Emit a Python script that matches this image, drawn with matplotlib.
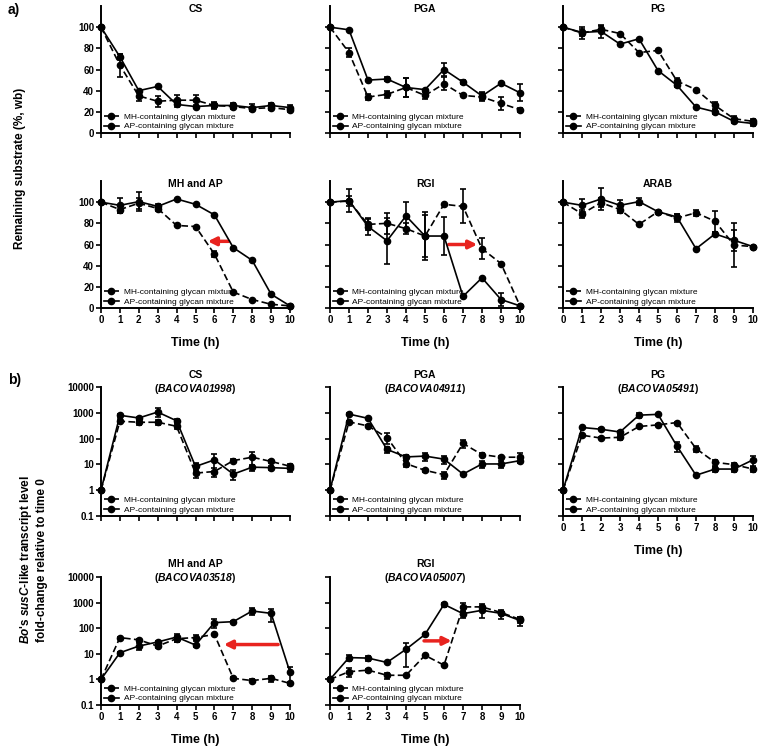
import numpy as np
import matplotlib
matplotlib.use("Agg")
import matplotlib.pyplot as plt
from matplotlib import font_manager
from matplotlib.lines import Line2D

# quitar la variante Narrow para que "Liberation Sans" sea la normal
font_manager.fontManager.ttflist = [f for f in font_manager.fontManager.ttflist
                                    if 'Narrow' not in f.fname]

plt.rcParams['font.family'] = ['Liberation Sans', 'DejaVu Sans']
plt.rcParams['mathtext.fontset'] = 'custom'
plt.rcParams['mathtext.it'] = 'Liberation Sans:italic:bold'
plt.rcParams['mathtext.rm'] = 'Liberation Sans:bold'
# \mathbf se usa como negrita cursiva (incluye digitos)
plt.rcParams['mathtext.bf'] = 'Liberation Sans:italic:bold'

# datos
hours = list(range(11))
xtick_labels = [str(h) for h in hours]
legend_labels = ["MH-containing glycan mixture", "AP-containing glycan mixture"]

# a) sustrato remanente (%)
cs_mh = [100, 64, 35, 30, 31, 31, 26, 25, 23, 24, 22]
cs_mh_err = [0, 11, 5, 5, 5, 5, 3, 2, 2, 2, 2]
cs_ap = [100, 72, 40, 44, 27, 25, 26, 26, 24, 26, 24]
cs_ap_err = [0, 3, 0, 0, 2, 0, 2, 2, 3, 2, 2]

pga_mh = [100, 76, 34, 36.5, 43, 35.5, 46.5, 35.5, 34, 28, 22]
pga_mh_err = [0, 4, 3, 3, 9, 3, 6, 0, 4, 6, 2]
pga_ap = [100, 97.5, 50, 51, 43, 41, 60, 48, 35, 47, 38]
pga_ap_err = [0, 0, 0, 2, 9, 0, 6, 2, 4, 0, 8]

pg_mh = [100, 94.5, 98, 94, 76, 78, 49, 41, 26, 13.5, 11]
pg_mh_err = [0, 6, 3, 0, 0, 0, 3, 0, 3, 3, 2]
pg_ap = [100, 95, 96, 84, 89, 59, 45, 24.5, 20, 11, 9]
pg_ap_err = [0, 3, 6, 0, 0, 0, 2, 0, 2, 2, 2]

mhap_mh = [100, 93, 99, 94, 78, 77, 51, 15, 8, 3.5, 2]
mhap_mh_err = [0, 3, 5, 2, 0, 0, 3, 0, 0, 0, 0]
mhap_ap = [100, 97, 100.5, 96, 103, 98, 88, 57, 45, 13, 2]
mhap_ap_err = [0, 7, 9, 2, 0, 0, 0, 0, 0, 0, 0]

rgi_mh = [100, 101, 79, 80, 75, 68, 98, 96, 56, 42, 2]
rgi_mh_err = [0, 5, 5, 10, 5, 20, 0, 16, 10, 0, 0]
rgi_ap = [100, 101.5, 77, 63.5, 87, 68, 68, 11, 28.5, 8, 2]
rgi_ap_err = [0, 11, 8, 22, 13, 23, 18, 0, 0, 6, 0]

arab_mh = [100, 89, 99.5, 93, 79, 91, 85, 90, 82, 59.5, 58]
arab_mh_err = [0, 4, 4, 3, 0, 0, 4, 3, 10, 21, 0]
arab_ap = [100, 97, 103, 97, 100.5, 91, 86, 56, 70, 64, 58]
arab_ap_err = [0, 6, 10, 5, 3, 0, 3, 0, 2, 10, 0]

# b) expresion relativa de susC (fold-change)
cs_mh_b = [1, 470, 430, 430, 300, 4.6, 5.3, 14, 19, 13, 8.5]
cs_mh_b_err = [0, 80, 80, 100, 60, 1.5, 2, 2, 10, 2, 1.5]
cs_ap_b = [1, 800, 630, 1070, 490, 8.3, 15, 4.2, 7.8, 7.5, 7]
cs_ap_b_err = [0, 100, 80, 400, 80, 3, 10, 1.8, 2, 1.5, 2]

pga_mh_b = [1, 445, 310, 110, 10.7, 5.9, 4.0, 65, 24, 19, 19]
pga_mh_b_err = [0, 50, 40, 50, 3, 1, 1.2, 20, 3, 2, 8]
pga_ap_b = [1, 890, 610, 38, 19.5, 21, 16, 4.2, 10.4, 10.4, 14]
pga_ap_b_err = [0, 50, 40, 10, 3, 7, 6, 0, 3, 3, 3]

pg_mh_b = [1, 135, 105, 112, 295, 340, 420, 41, 12, 9.8, 6.6]
pg_mh_b_err = [0, 10, 10, 25, 20, 20, 20, 10, 3, 2, 1.5]
pg_ap_b = [1, 270, 230, 180, 810, 870, 51, 3.8, 6.6, 6.6, 15]
pg_ap_b_err = [0, 20, 20, 20, 180, 50, 20, 0, 1.5, 1.5, 6]

mhap_mh_b = [1, 43, 35, 20, 39, 43, 57, 1.1, 0.9, 1.1, 0.7]
mhap_mh_b_err = [0, 3, 3, 3, 10, 10, 5, 0.1, 0.1, 0.3, 0.1]
mhap_ap_b = [1, 11, 20, 29, 45, 22, 165, 180, 470, 380, 1.9]
mhap_ap_b_err = [0, 1, 6, 4, 15, 3, 60, 10, 150, 200, 1.2]

rgi_mh_b = [1, 2.0, 2.3, 1.45, 1.45, 8.7, 3.6, 680, 680, 410, 220]
rgi_mh_b_err = [0, 0.8, 0.3, 0.4, 0.1, 0.5, 0.3, 250, 200, 60, 60]
rgi_ap_b = [1, 7.1, 6.8, 4.6, 15, 57, 850, 370, 500, 380, 200]
rgi_ap_b_err = [0, 2, 1.5, 0.3, 12, 5, 150, 120, 250, 150, 80]

log_ticks = [0.1, 1, 10, 100, 1000, 10000]
log_tick_labels = ["0.1", "1", "10", "100", "1000", "10000"]

W, H = 760, 753
fig = plt.figure(figsize=(W / 100, H / 100), dpi=100)


def place(x0, x1, ytop, ybot):
    return [x0 / W, 1 - ybot / H, (x1 - x0) / W, (ybot - ytop) / H]


cols = [(101, 290), (330, 520), (563, 753)]
dash = (0, (4, 2))


def draw_panel(rect, mh, mh_err, ap, ap_err, title, log=False,
               show_x=False, show_y=False, title_y=0.975):
    ax = fig.add_axes(rect)
    for vals, err, ls in [(mh, mh_err, dash), (ap, ap_err, '-')]:
        ax.errorbar(hours, vals, yerr=err, fmt='none', ecolor='black',
                    capsize=2.5, capthick=1.2, elinewidth=1.2, clip_on=False, zorder=3)
        ax.plot(hours, vals, color='black', ls=ls, lw=1.2, marker='o', ms=4.5,
                clip_on=False, zorder=4)
    ax.set_xlim(0, 10)
    if log:
        ax.set_yscale('log')
        ax.set_ylim(0.1, 10000)
        ax.set_yticks(log_ticks)
        ax.set_yticklabels(log_tick_labels)
        ax.minorticks_off()
    else:
        ax.set_ylim(0, 120)
        ax.set_yticks([0, 20, 40, 60, 80, 100])
    ax.set_xticks(hours)
    ax.set_xticklabels(xtick_labels)
    for s in ['top', 'right']:
        ax.spines[s].set_visible(False)
    for s in ['left', 'bottom']:
        ax.spines[s].set_linewidth(1.4)
    ax.tick_params(direction='out', length=3.5, width=1.2, labelsize=7, pad=1.5)
    for lab in ax.get_xticklabels() + ax.get_yticklabels():
        lab.set_fontweight('bold')
    if not show_x:
        ax.tick_params(axis='x', labelbottom=False)
    else:
        ax.set_xlabel("Time (h)", fontsize=9, fontweight='bold', labelpad=9)
    if not show_y:
        ax.tick_params(axis='y', labelleft=False)
    ax.text(0.5, title_y, title, transform=ax.transAxes, ha='center', va='center',
            fontsize=7.5, fontweight='bold', linespacing=1.15)
    handles = [Line2D([], [], color='black', ls=dash, lw=1.2, marker='o', ms=4.5),
               Line2D([], [], color='black', ls='-', lw=1.2, marker='o', ms=4.5)]
    ax.legend(handles, legend_labels, loc='lower left', bbox_to_anchor=(0.0, 0.0),
              frameon=False, fontsize=6, numpoints=1, handlelength=1.8,
              handletextpad=0.6, labelspacing=0.25, borderaxespad=0.1, borderpad=0.2)
    return ax


def red_arrow(ax, tail, head):
    ax.annotate('', xy=head, xytext=tail,
                arrowprops=dict(arrowstyle='-|>', color='#e8231f', lw=2.5,
                                mutation_scale=12, shrinkA=0, shrinkB=0))


# a) fila 1
draw_panel(place(*cols[0], 6, 133), cs_mh, cs_mh_err, cs_ap, cs_ap_err, "CS", show_y=True)
draw_panel(place(*cols[1], 6, 133), pga_mh, pga_mh_err, pga_ap, pga_ap_err, "PGA")
draw_panel(place(*cols[2], 6, 133), pg_mh, pg_mh_err, pg_ap, pg_ap_err, "PG")

# a) fila 2
ax = draw_panel(place(*cols[0], 181, 308), mhap_mh, mhap_mh_err, mhap_ap, mhap_ap_err,
                "MH and AP", show_x=True, show_y=True)
red_arrow(ax, (6.75, 63), (5.65, 63))
ax = draw_panel(place(*cols[1], 181, 308), rgi_mh, rgi_mh_err, rgi_ap, rgi_ap_err,
                "RGI", show_x=True)
red_arrow(ax, (6.25, 60), (7.75, 60))
draw_panel(place(*cols[2], 181, 308), arab_mh, arab_mh_err, arab_ap, arab_ap_err,
           "ARAB", show_x=True)

# b) fila 1
draw_panel(place(*cols[0], 387, 516), cs_mh_b, cs_mh_b_err, cs_ap_b, cs_ap_b_err,
           "CS\n($\\mathbf{BACOVA01998}$)", log=True, show_y=True, title_y=1.03)
draw_panel(place(*cols[1], 387, 516), pga_mh_b, pga_mh_b_err, pga_ap_b, pga_ap_b_err,
           "PGA\n($\\mathbf{BACOVA04911}$)", log=True, title_y=1.03)
draw_panel(place(*cols[2], 387, 516), pg_mh_b, pg_mh_b_err, pg_ap_b, pg_ap_b_err,
           "PG\n($\\mathbf{BACOVA05491}$)", log=True, show_x=True, title_y=1.03)

# b) fila 2
ax = draw_panel(place(*cols[0], 577, 705), mhap_mh_b, mhap_mh_b_err, mhap_ap_b, mhap_ap_b_err,
                "MH and AP\n($\\mathbf{BACOVA03518}$)", log=True, show_x=True, show_y=True,
                title_y=1.04)
red_arrow(ax, (9.37, 23), (6.5, 23))
ax = draw_panel(place(*cols[1], 577, 705), rgi_mh_b, rgi_mh_b_err, rgi_ap_b, rgi_ap_b_err,
                "RGI\n($\\mathbf{BACOVA05007}$)", log=True, show_x=True, title_y=1.04)
red_arrow(ax, (4.95, 32), (6.4, 32))

# etiquetas generales
fig.text(8 / W, 1 - 10 / H, "a)", fontsize=10, fontweight='bold', ha='left', va='center')
fig.text(8 / W, 1 - 380 / H, "b)", fontsize=10, fontweight='bold', ha='left', va='center')
fig.text(20 / W, 1 - 168 / H, "Remaining substrate (%, wb)", rotation=90,
         fontsize=8.5, fontweight='bold', ha='center', va='center')
fig.text(33 / W, 1 - 560 / H,
         "$\\mathbf{Bo}$'s $\\mathbf{susC}$-like transcript level\nfold-change relative to time 0",
         rotation=90, fontsize=8.5, fontweight='bold', ha='center', va='center',
         linespacing=1.2)

fig.savefig("out.png", dpi=100)
